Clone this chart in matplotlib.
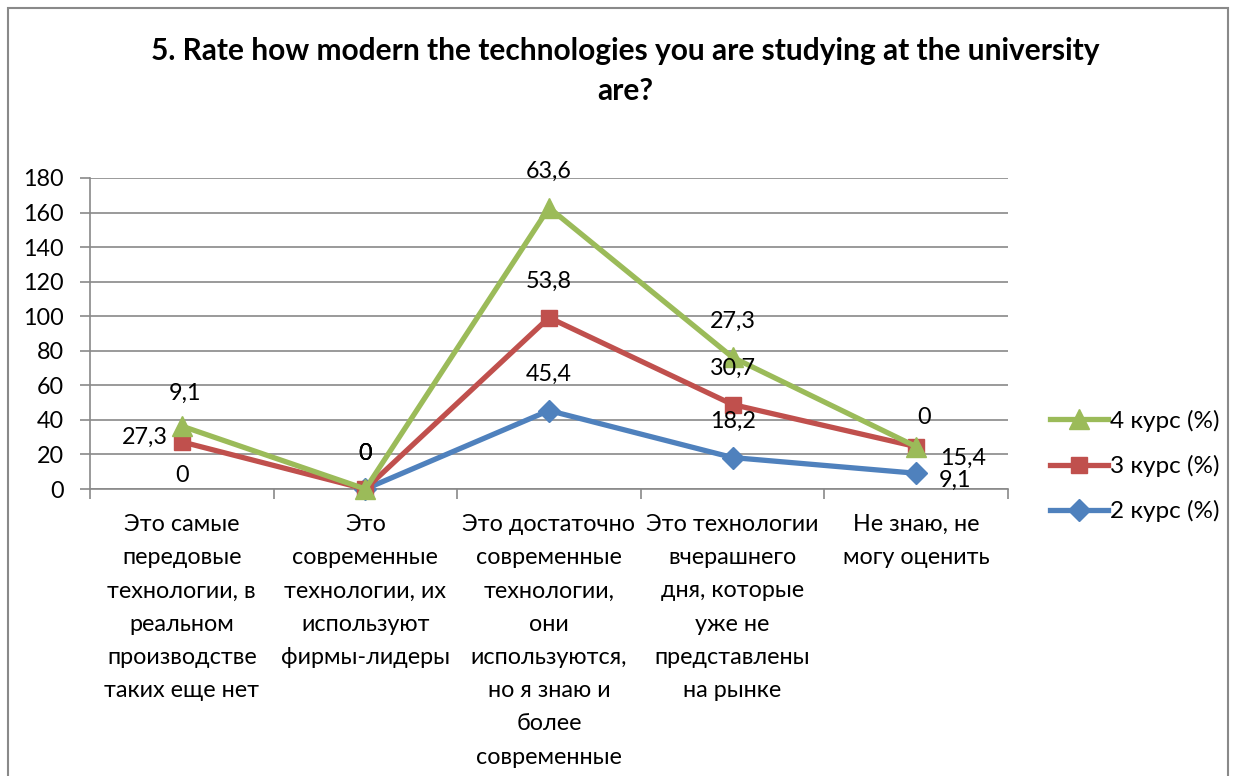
import matplotlib
matplotlib.use("Agg")
import matplotlib.pyplot as plt
from matplotlib.patches import Rectangle
import numpy as np

plt.rcParams['font.family'] = ['Lato', 'DejaVu Sans']

categories = [
    "Это самые\nпередовые\nтехнологии, в\nреальном\nпроизводстве\nтаких еще нет",
    "Это\nсовременные\nтехнологии, их\nиспользуют\nфирмы-лидеры",
    "Это достаточно\nсовременные\nтехнологии,\nони\nиспользуются,\nно я знаю и\nболее\nсовременные",
    "Это технологии\nвчерашнего\nдня, которые\nуже не\nпредставлены\nна рынке",
    "Не знаю, не\nмогу оценить",
]
# None = point not drawn in the chart (its label still reads 0)
kurs2 = [None, 0, 45.4, 18.2, 9.1]
kurs3 = [27.3, 0, 53.8, 30.7, 15.4]
kurs4 = [9.1, 0, 63.6, 27.3, 0]
series_names = ["2 курс (%)", "3 курс (%)", "4 курс (%)"]
yticks = [0, 20, 40, 60, 80, 100, 120, 140, 160, 180]
title = "5. Rate how modern the technologies you are studying at the university\nare?"

colors = ["#4F81BD", "#C0504D", "#9BBB59"]
markers = ["D", "s", "^"]
msizes = [11, 12, 15]
# label offsets in pixels (dx, dy) per series per point
offsets = [
    [(0, 14), (0, 36), (0, 36), (0, 36), (39, -7)],
    [(-37, 4), (0, 36), (0, 36), (0, 36), (47, -12)],
    [(3, 33), (0, 36), (0, 36), (0, 36), (8, 29)],
]
FS = 16.8

W, H = 1233, 776
fig = plt.figure(figsize=(W / 100, H / 100), dpi=100)
fig.patch.set_facecolor("white")
fig.add_artist(Rectangle((8 / W, -0.1), (1228 - 8) / W, (776 - 8) / H + 0.1,
                         transform=fig.transFigure, fill=False,
                         edgecolor="#898989", linewidth=1.5))

ax = fig.add_axes([90 / W, 1 - 489 / H, (1008 - 90) / W, (489 - 178) / H])
x = np.arange(len(categories))
data = [kurs2, kurs3, kurs4]
cum = np.zeros(len(categories))
handles = []
stacked_all = []
for vals, c, m, ms, name in zip(data, colors, markers, msizes, series_names):
    v = np.array([np.nan if q is None else q for q in vals], dtype=float)
    drawn = cum + v
    cum = cum + np.nan_to_num(v)
    stacked_all.append(cum.copy())
    h, = ax.plot(x, drawn, color=c, linewidth=3.8, marker=m, markersize=ms,
                 markeredgecolor=c, label=name, zorder=3, clip_on=False)
    handles.append(h)

px = 0.72
for s, (vals, st) in enumerate(zip(data, stacked_all)):
    for i, (v, yv) in enumerate(zip(vals, st)):
        dx, dy = offsets[s][i]
        lab = ("%g" % (v or 0)).replace(".", ",")
        ax.annotate(lab, (x[i], yv), xytext=(dx * px, dy * px),
                    textcoords="offset points", ha="center", va="center",
                    fontsize=FS, color="black", zorder=5)

ax.set_xlim(-0.5, len(categories) - 0.5)
ax.set_ylim(0, 180)
ax.set_yticks(yticks)
ax.set_xticks(x)
ax.set_xticklabels(categories, fontsize=FS, linespacing=1.72, va="top")
ax.set_xticks(np.arange(-0.5, len(categories), 1), minor=True)
ax.tick_params(axis="x", which="major", length=0, pad=18)
ax.tick_params(axis="x", which="minor", length=7, color="#898989", width=1.2)
ax.tick_params(axis="y", length=7, color="#898989", width=1.2, pad=12,
               labelsize=FS)
ax.yaxis.grid(True, color="#898989", linewidth=1.2)
ax.set_axisbelow(True)
for sp in ["top", "right"]:
    ax.spines[sp].set_visible(False)
for sp in ["left", "bottom"]:
    ax.spines[sp].set_color("#898989")
    ax.spines[sp].set_linewidth(1.2)

fig.text(625 / W, 1 - 71 / H, title, ha="center", va="center",
         fontsize=21.5, fontweight="bold", linespacing=1.55)

leg = fig.legend(handles[::-1], series_names[::-1], loc="center left",
                 bbox_to_anchor=(1040 / W, 1 - 466 / H), frameon=False,
                 fontsize=17.5, handlelength=2.4, handletextpad=0.1,
                 labelspacing=0.95, borderaxespad=0)

fig.savefig("out.png", dpi=100)
